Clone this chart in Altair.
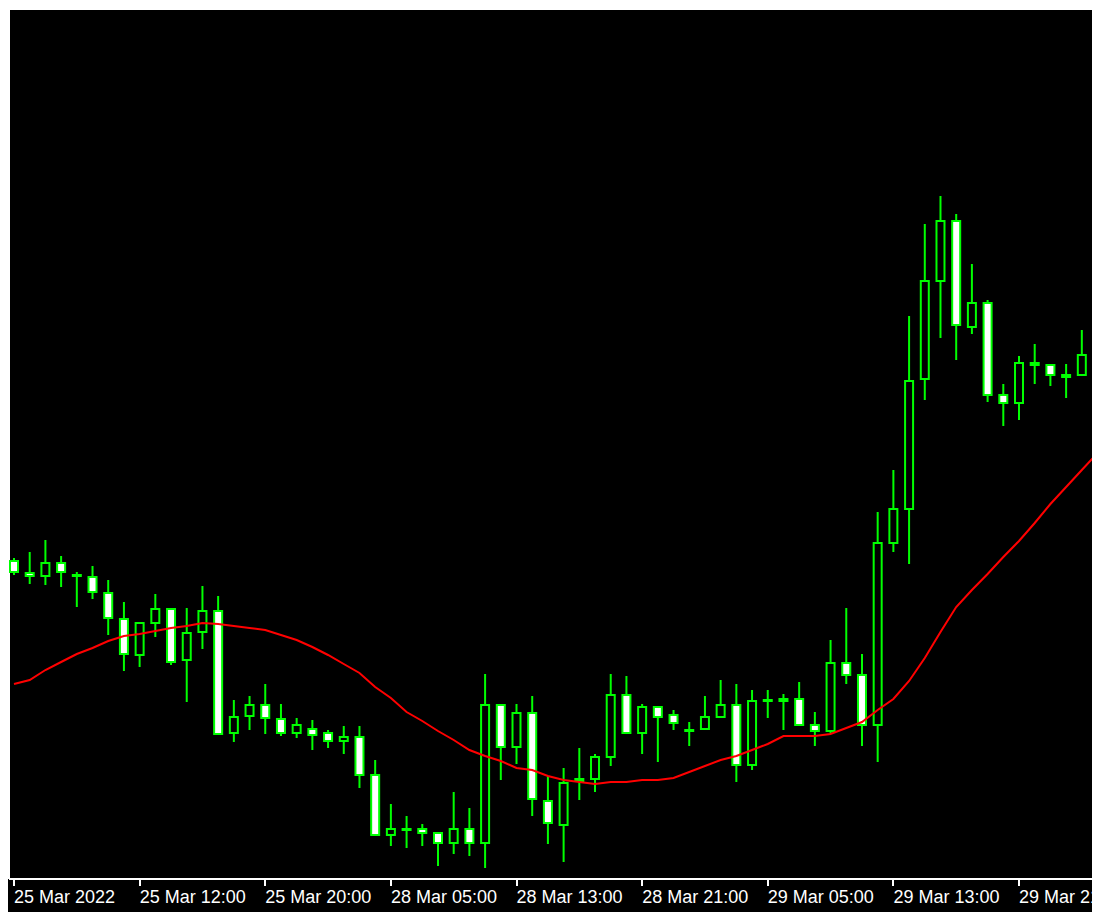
import altair as alt
import pandas as pd

# EURUSD H1, 25-29 Mar 2022
TICK_LABELS = ["25 Mar 2022", "25 Mar 12:00", "25 Mar 20:00", "28 Mar 05:00",
               "28 Mar 13:00", "28 Mar 21:00", "29 Mar 05:00", "29 Mar 13:00",
               "29 Mar 21:00"]

OPEN = [1.10317, 1.10281, 1.10272, 1.10311, 1.10275, 1.10269, 1.10221, 1.10143, 1.10035, 1.10131,
        1.10173, 1.10020, 1.10104, 1.10167, 1.09801, 1.09852, 1.09885, 1.09843, 1.09801, 1.09813,
        1.09801, 1.09777, 1.09789, 1.09675, 1.09495, 1.09510, 1.09513, 1.09501, 1.09471, 1.09513,
        1.09471, 1.09885, 1.09759, 1.09861, 1.09597, 1.09525, 1.09657, 1.09663, 1.09729, 1.09915,
        1.09801, 1.09879, 1.09855, 1.09807, 1.09813, 1.09849, 1.09885, 1.09705, 1.09897, 1.09903,
        1.09903, 1.09825, 1.09807, 1.10011, 1.09975, 1.09825, 1.10371, 1.10473, 1.10863, 1.11157,
        1.11337, 1.11019, 1.11091, 1.10815, 1.10791, 1.10911, 1.10905, 1.10875, 1.10875]

HIGH = [1.10326, 1.10344, 1.10380, 1.10332, 1.10284, 1.10302, 1.10260, 1.10194, 1.10134, 1.10218,
        1.10176, 1.10176, 1.10242, 1.10212, 1.09900, 1.09912, 1.09948, 1.09888, 1.09846, 1.09840,
        1.09810, 1.09822, 1.09822, 1.09720, 1.09588, 1.09552, 1.09528, 1.09504, 1.09624, 1.09576,
        1.09978, 1.09888, 1.09888, 1.09912, 1.09672, 1.09696, 1.09756, 1.09738, 1.09978, 1.09972,
        1.09888, 1.09882, 1.09870, 1.09834, 1.09912, 1.09960, 1.09948, 1.09930, 1.09930, 1.09918,
        1.09954, 1.09864, 1.10080, 1.10176, 1.10038, 1.10464, 1.10590, 1.11052, 1.11328, 1.11412,
        1.11358, 1.11208, 1.11100, 1.10848, 1.10932, 1.10968, 1.10908, 1.10908, 1.11010]

LOW = [1.10275, 1.10248, 1.10245, 1.10239, 1.10179, 1.10203, 1.10095, 1.09987, 1.09999, 1.10089,
       1.10005, 1.09894, 1.10053, 1.09795, 1.09774, 1.09810, 1.09798, 1.09792, 1.09786, 1.09750,
       1.09756, 1.09738, 1.09636, 1.09492, 1.09462, 1.09456, 1.09462, 1.09402, 1.09438, 1.09432,
       1.09396, 1.09660, 1.09708, 1.09552, 1.09468, 1.09414, 1.09600, 1.09624, 1.09702, 1.09798,
       1.09738, 1.09714, 1.09810, 1.09762, 1.09810, 1.09846, 1.09654, 1.09690, 1.09846, 1.09810,
       1.09822, 1.09762, 1.09798, 1.09948, 1.09762, 1.09714, 1.10344, 1.10308, 1.10800, 1.10986,
       1.10920, 1.10998, 1.10794, 1.10722, 1.10740, 1.10848, 1.10842, 1.10806, 1.10872]

CLOSE = [1.10284, 1.10272, 1.10311, 1.10284, 1.10272, 1.10224, 1.10146, 1.10038, 1.10131, 1.10173,
         1.10014, 1.10101, 1.10167, 1.09798, 1.09849, 1.09885, 1.09846, 1.09801, 1.09825, 1.09795,
         1.09777, 1.09789, 1.09675, 1.09495, 1.09513, 1.09513, 1.09501, 1.09471, 1.09513, 1.09471,
         1.09885, 1.09759, 1.09861, 1.09603, 1.09531, 1.09651, 1.09663, 1.09729, 1.09915, 1.09801,
         1.09879, 1.09849, 1.09831, 1.09810, 1.09849, 1.09885, 1.09705, 1.09897, 1.09900, 1.09897,
         1.09825, 1.09807, 1.10011, 1.09975, 1.09825, 1.10371, 1.10473, 1.10857, 1.11157, 1.11337,
         1.11025, 1.11091, 1.10815, 1.10791, 1.10911, 1.10905, 1.10875, 1.10869, 1.10935]

# moving average (one more point, continues past the right edge)
MA = [1.09948, 1.09960, 1.09990, 1.10014, 1.10038, 1.10056, 1.10077, 1.10092, 1.10098, 1.10107,
      1.10116, 1.10122, 1.10131, 1.10128, 1.10122, 1.10116, 1.10110, 1.10095, 1.10080, 1.10059,
      1.10035, 1.10008, 1.09981, 1.09939, 1.09906, 1.09864, 1.09837, 1.09807, 1.09780, 1.09750,
      1.09732, 1.09717, 1.09696, 1.09690, 1.09672, 1.09660, 1.09654, 1.09648, 1.09654, 1.09654,
      1.09660, 1.09660, 1.09666, 1.09684, 1.09702, 1.09720, 1.09732, 1.09750, 1.09768, 1.09792,
      1.09792, 1.09792, 1.09798, 1.09816, 1.09834, 1.09870, 1.09903, 1.09957, 1.10026, 1.10104,
      1.10179, 1.10230, 1.10278, 1.10329, 1.10377, 1.10431, 1.10488, 1.10539, 1.10590, 1.10641]

BARS_PER_LABEL = 8
Y_DOMAIN = [1.09363, 1.11973]
X_DOMAIN = [0, 68.33]

W, H = 1083, 870
GREEN = "#00ff00"

n = len(OPEN)
candles = pd.DataFrame({"i": list(range(n)), "open": OPEN, "high": HIGH,
                        "low": LOW, "close": CLOSE})
ma_df = pd.DataFrame({"i": list(range(len(MA))), "ma": MA})
frame_df = pd.DataFrame({"k": [0]})

tick_values = [j * BARS_PER_LABEL for j in range(len(TICK_LABELS))]
label_arr = "[" + ",".join("'" + s + "'" for s in TICK_LABELS) + "]"
label_expr = label_arr + "[round(datum.value / %d)]" % BARS_PER_LABEL

xscale = alt.Scale(domain=X_DOMAIN, nice=False, zero=False)
yscale = alt.Scale(domain=Y_DOMAIN, nice=False, zero=False)
xaxis = alt.Axis(values=tick_values, labelExpr=label_expr, title=None, grid=False)
yaxis = alt.Axis(labels=False, ticks=False, title=None, grid=False)

wicks = alt.Chart(candles).mark_rule(color=GREEN, strokeWidth=2, clip=True).encode(
    x=alt.X("i:Q", scale=xscale, axis=xaxis),
    y=alt.Y("low:Q", scale=yscale, axis=yaxis),
    y2="high:Q",
)

bodies = alt.Chart(candles).mark_bar(width=8, stroke=GREEN, strokeWidth=2, clip=True).encode(
    x=alt.X("i:Q", scale=xscale, axis=xaxis),
    y=alt.Y("open:Q", scale=yscale, axis=yaxis),
    y2="close:Q",
    fill=alt.condition("datum.close < datum.open", alt.value("#ffffff"), alt.value("#000000")),
)

ma_line = alt.Chart(ma_df).mark_line(color="#ff0000", strokeWidth=2, clip=True).encode(
    x=alt.X("i:Q", scale=xscale, axis=xaxis),
    y=alt.Y("ma:Q", scale=yscale, axis=yaxis),
)

top_border = alt.Chart(frame_df).mark_rule(color="#ffffff", strokeWidth=2, strokeCap="square").encode(
    x=alt.value(0), x2=alt.value(W), y=alt.value(0)
)

chart = alt.layer(wicks, bodies, ma_line, top_border).properties(
    width=W,
    height=H,
    autosize=alt.AutoSizeParams(type="none"),
    padding={"left": 1, "top": 1, "right": 0, "bottom": 33},
).configure(
    background="#000000",
).configure_view(
    strokeWidth=0, fill="#000000",
).configure_axis(
    domainColor="#ffffff", domainWidth=2, tickColor="#ffffff", tickWidth=2, tickSize=7,
    labelColor="#ffffff", labelFont="Liberation Sans, Arial, sans-serif", labelFontSize=18,
    labelPadding=3, translate=0, grid=False, zindex=2,
).configure_axisX(
    labelAlign="left", labelBaseline="top", labelOverlap=False, labelFlush=False,
)

chart.save("out.html", embed_options={"renderer": "svg", "actions": False})
